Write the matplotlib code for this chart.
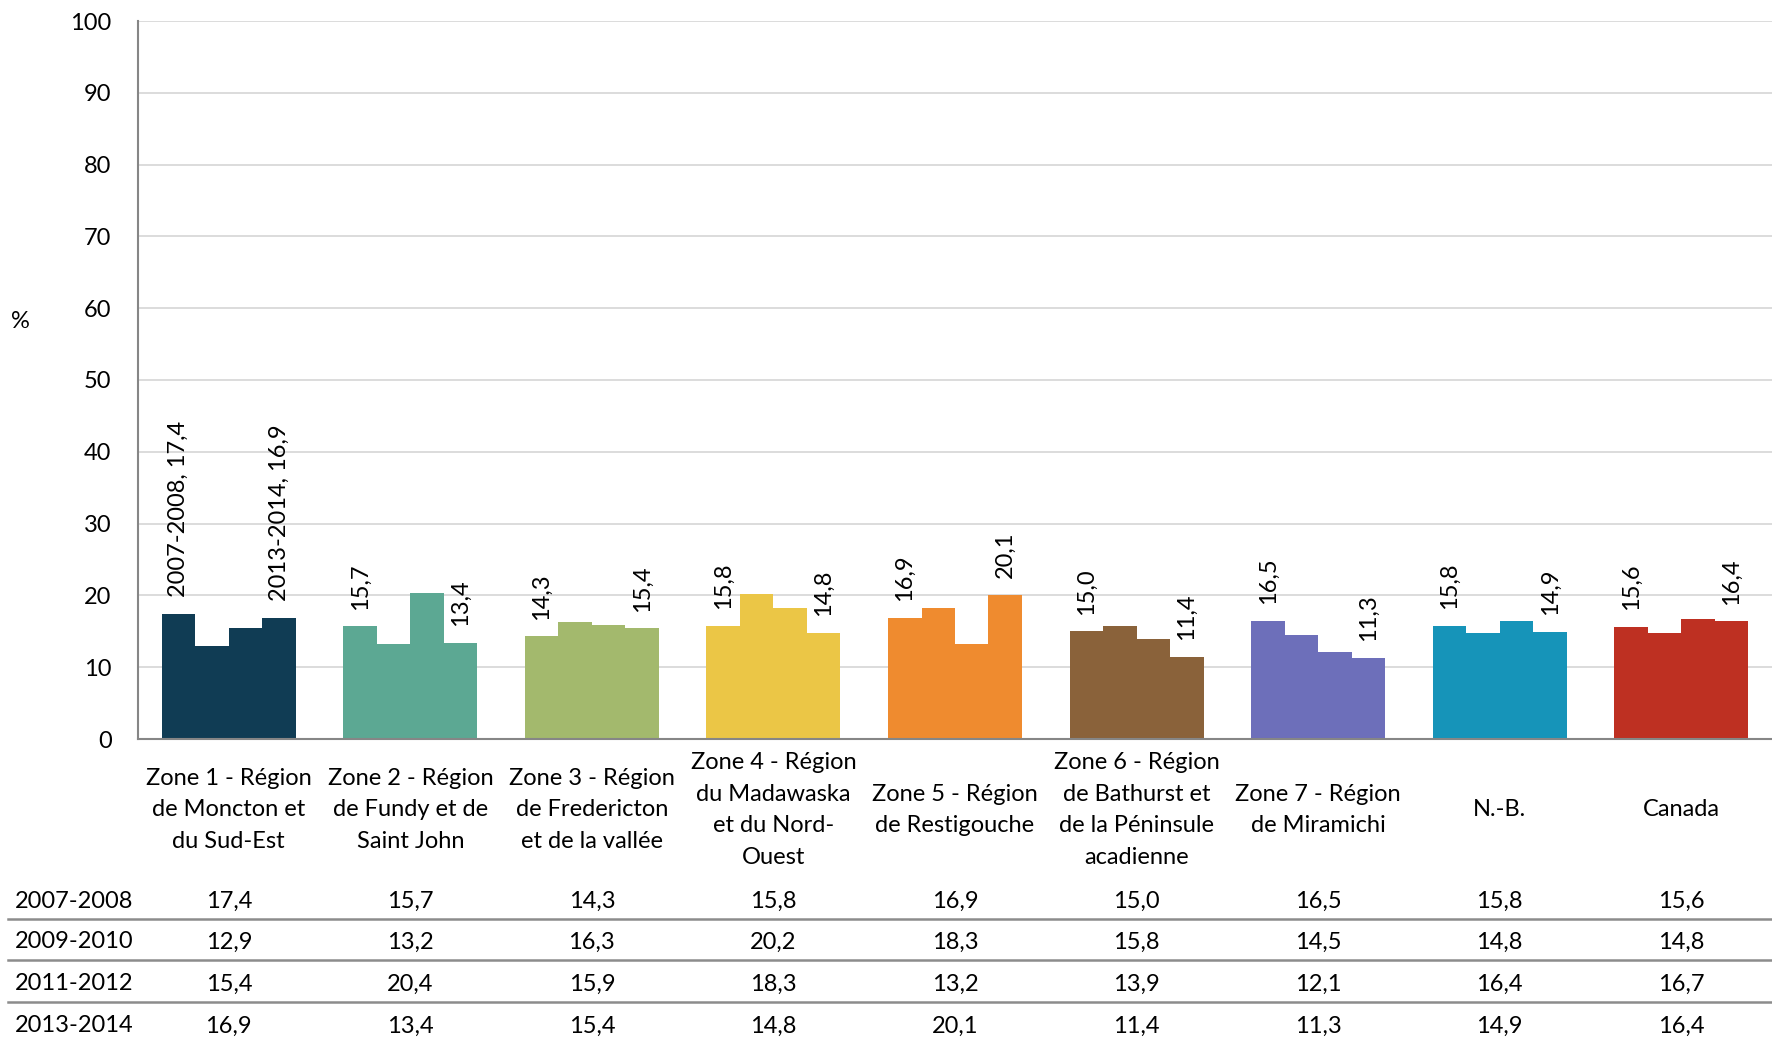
import matplotlib
matplotlib.use("Agg")
import matplotlib.pyplot as plt
from matplotlib.transforms import blended_transform_factory
import numpy as np

plt.rcParams['font.family'] = ['Lato', 'DejaVu Sans']

categories = [
    "Zone 1 - Région\nde Moncton et\ndu Sud-Est",
    "Zone 2 - Région\nde Fundy et de\nSaint John",
    "Zone 3 - Région\nde Fredericton\net de la vallée",
    "Zone 4 - Région\ndu Madawaska\net du Nord-\nOuest",
    "Zone 5 - Région\nde Restigouche",
    "Zone 6 - Région\nde Bathurst et\nde la Péninsule\nacadienne",
    "Zone 7 - Région\nde Miramichi",
    "N.-B.",
    "Canada",
]
series_names = ["2007-2008", "2009-2010", "2011-2012", "2013-2014"]
v2007_2008 = [17.4, 15.7, 14.3, 15.8, 16.9, 15.0, 16.5, 15.8, 15.6]
v2009_2010 = [12.9, 13.2, 16.3, 20.2, 18.3, 15.8, 14.5, 14.8, 14.8]
v2011_2012 = [15.4, 20.4, 15.9, 18.3, 13.2, 13.9, 12.1, 16.4, 16.7]
v2013_2014 = [16.9, 13.4, 15.4, 14.8, 20.1, 11.4, 11.3, 14.9, 16.4]
series_values = [v2007_2008, v2009_2010, v2011_2012, v2013_2014]
colors = ["#103c54", "#5ca893", "#a3b96d", "#ebc646", "#ef8b2f",
          "#8a623a", "#6d6fba", "#1694b9", "#be3022"]

W, H = 1772, 1037
fig = plt.figure(figsize=(W / 100, H / 100), dpi=100)
ax_left, ax_bottom_px, ax_top_px = 138, 739, 21
ax = fig.add_axes([ax_left / W, (H - ax_bottom_px) / H, (W - ax_left) / W,
                   (ax_bottom_px - ax_top_px) / H])

FS = 17
n = len(categories)
x = np.arange(n)
w = 0.1845
for j, vals in enumerate(series_values):
    xs = x + (j - 1.5) * w
    ax.bar(xs, vals, width=w, color=colors, edgecolor='none', linewidth=0, zorder=3)
    if j in (0, 3):
        for i, (xi, v) in enumerate(zip(xs, vals)):
            s = f"{v:.1f}".replace(".", ",")
            if i == 0:
                s = f"{series_names[j]}, {s}"
            ax.annotate(s, (xi, v), xytext=(0, 12), textcoords='offset points',
                        rotation=90, ha='center', va='bottom', fontsize=FS,
                        color='#000000', zorder=4)

ax.set_xlim(-0.5, n - 0.5)
ax.set_ylim(0, 100)
ax.set_yticks(np.arange(0, 101, 10))
ax.yaxis.grid(True, color='#d9d9d9', linewidth=1.3, zorder=0)
ax.set_axisbelow(True)
ax.tick_params(axis='y', length=0, pad=19, labelsize=FS)
ax.tick_params(axis='x', length=0, labelbottom=False)
for s in ['top', 'right']:
    ax.spines[s].set_visible(False)
for s in ['left', 'bottom']:
    ax.spines[s].set_color('#868686')
    ax.spines[s].set_linewidth(1.5)
    ax.spines[s].set_zorder(5)

fig.text(20 / W, 1 - 321 / H, "%", fontsize=FS, ha='center', va='center')

tr = blended_transform_factory(ax.transData, fig.transFigure)
for i, c in enumerate(categories):
    ax.text(i, 1 - 810 / H, c, transform=tr, ha='center', va='center',
            fontsize=FS, linespacing=1.63, multialignment='center')

row_y = [901, 942, 984, 1026]
for j, name in enumerate(series_names):
    fig.text(15 / W, 1 - row_y[j] / H, name, ha='left', va='center', fontsize=FS)
    for i, v in enumerate(series_values[j]):
        ax.text(i, 1 - row_y[j] / H, f"{v:.1f}".replace(".", ","), transform=tr,
                ha='center', va='center', fontsize=FS)

for yl in [919, 960, 1002]:
    fig.add_artist(plt.Line2D([8 / W, 1], [1 - yl / H, 1 - yl / H],
                              transform=fig.transFigure, color='#8c8c8c', linewidth=1.8))

fig.savefig("out.png", dpi=100, facecolor='white')
